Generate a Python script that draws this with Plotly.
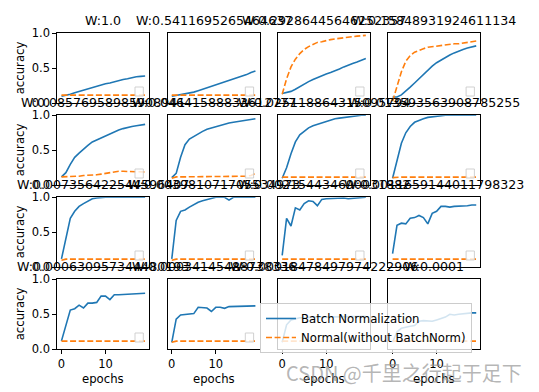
import plotly.graph_objects as go

# ---------------- data ----------------
epochs = list(range(20))

titles = ["W:1.0", "W:0.5411695265464637", "W:0.29286445646252357", "W:0.15848931924611134",
          "W:0.08576958985908941", "W:0.04641588833612777", "W:0.025118864315095794", "W:0.013593563908785255",
          "W:0.007356422544596407", "W:0.003981071705534973", "W:0.002154434690031882", "W:0.0011659144011798323",
          "W:0.000630957344480193", "W:0.00034145488738336", "W:0.00018478497974222906", "W:0.0001"]

bn_01 = [0.10, 0.11, 0.13, 0.15, 0.17, 0.19, 0.21, 0.23, 0.24, 0.26, 0.28, 0.29, 0.31, 0.32, 0.34, 0.35, 0.37, 0.38, 0.385, 0.39]
bn_02 = [0.10, 0.11, 0.12, 0.13, 0.14, 0.16, 0.18, 0.20, 0.22, 0.25, 0.27, 0.29, 0.31, 0.33, 0.35, 0.37, 0.39, 0.41, 0.44, 0.46]
bn_03 = [0.14, 0.15, 0.17, 0.20, 0.24, 0.28, 0.31, 0.34, 0.37, 0.39, 0.42, 0.44, 0.46, 0.49, 0.52, 0.55, 0.57, 0.59, 0.62, 0.64]
bn_04 = [0.09, 0.09, 0.12, 0.17, 0.23, 0.29, 0.35, 0.42, 0.48, 0.53, 0.58, 0.62, 0.66, 0.69, 0.72, 0.75, 0.77, 0.79, 0.80, 0.82]
bn_05 = [0.12, 0.18, 0.30, 0.40, 0.46, 0.52, 0.57, 0.62, 0.65, 0.68, 0.71, 0.74, 0.77, 0.79, 0.81, 0.83, 0.84, 0.85, 0.86, 0.87]
bn_06 = [0.11, 0.17, 0.40, 0.58, 0.66, 0.70, 0.74, 0.77, 0.80, 0.82, 0.84, 0.86, 0.88, 0.89, 0.90, 0.91, 0.92, 0.93, 0.94, 0.95]
bn_07 = [0.10, 0.25, 0.45, 0.62, 0.72, 0.77, 0.82, 0.85, 0.87, 0.89, 0.92, 0.94, 0.95, 0.96, 0.97, 0.98, 0.99, 1.00, 1.00, 1.00]
bn_08 = [0.10, 0.35, 0.60, 0.75, 0.84, 0.90, 0.93, 0.95, 0.97, 0.98, 0.99, 1.00, 1.00, 1.00, 1.00, 1.00, 1.00, 1.00, 1.00, 1.00]
bn_09 = [0.12, 0.40, 0.70, 0.80, 0.87, 0.91, 0.95, 0.98, 0.99, 1.00, 1.00, 1.00, 1.00, 1.00, 1.00, 1.00, 1.00, 1.00, 1.00, 1.00]
bn_10 = [0.12, 0.67, 0.80, 0.82, 0.86, 0.90, 0.93, 0.95, 0.97, 0.99, 1.00, 1.00, 1.00, 0.96, 1.00, 1.00, 1.00, 1.00, 1.00, 1.00]
bn_11 = [0.17, 0.70, 0.59, 0.85, 0.82, 0.91, 0.95, 0.94, 0.88, 0.97, 0.98, 0.985, 0.99, 0.99, 0.99, 0.98, 0.985, 0.99, 0.99, 1.00]
bn_12 = [0.195, 0.60, 0.63, 0.62, 0.70, 0.71, 0.74, 0.71, 0.62, 0.77, 0.80, 0.87, 0.87, 0.86, 0.87, 0.87, 0.88, 0.88, 0.89, 0.89]
bn_13 = [0.12, 0.33, 0.56, 0.58, 0.63, 0.59, 0.66, 0.66, 0.67, 0.76, 0.76, 0.71, 0.78, 0.78, 0.785, 0.79, 0.795, 0.80, 0.80, 0.80]
bn_14 = [0.10, 0.43, 0.49, 0.50, 0.50, 0.51, 0.60, 0.60, 0.59, 0.54, 0.60, 0.60, 0.585, 0.61, 0.61, 0.61, 0.615, 0.615, 0.62, 0.62]
bn_15 = [0.10, 0.35, 0.42, 0.44, 0.45, 0.45, 0.46, 0.46, 0.46, 0.46, 0.46, 0.47, 0.47, 0.47, 0.47, 0.47, 0.47, 0.47, 0.47, 0.47]
bn_16 = [0.10, 0.25, 0.30, 0.32, 0.33, 0.34, 0.40, 0.41, 0.41, 0.40, 0.42, 0.44, 0.46, 0.50, 0.49, 0.50, 0.51, 0.51, 0.52, 0.52]

nm_01 = [0.117, 0.117, 0.117, 0.117, 0.117, 0.117, 0.117, 0.117, 0.117, 0.117, 0.117, 0.117, 0.117, 0.117, 0.117, 0.117, 0.117, 0.117, 0.117, 0.117]
nm_02 = [0.117, 0.117, 0.117, 0.117, 0.117, 0.117, 0.117, 0.117, 0.117, 0.117, 0.117, 0.117, 0.117, 0.117, 0.117, 0.117, 0.117, 0.117, 0.117, 0.117]
nm_03 = [0.13, 0.35, 0.52, 0.63, 0.71, 0.77, 0.81, 0.84, 0.87, 0.88, 0.90, 0.91, 0.92, 0.93, 0.94, 0.95, 0.955, 0.96, 0.965, 0.97]
nm_04 = [0.03, 0.25, 0.45, 0.60, 0.68, 0.73, 0.76, 0.78, 0.80, 0.81, 0.82, 0.83, 0.84, 0.84, 0.85, 0.85, 0.86, 0.87, 0.88, 0.89]
nm_05 = [0.12, 0.12, 0.13, 0.13, 0.13, 0.14, 0.14, 0.15, 0.15, 0.16, 0.17, 0.18, 0.20, 0.20, 0.20, 0.20, 0.20, 0.20, 0.19, 0.19]
nm_06 = [0.10, 0.12, 0.12, 0.12, 0.12, 0.12, 0.12, 0.12, 0.12, 0.12, 0.12, 0.12, 0.12, 0.12, 0.12, 0.12, 0.13, 0.13, 0.14, 0.17]
nm_07 = [0.117, 0.117, 0.117, 0.117, 0.117, 0.117, 0.117, 0.117, 0.117, 0.117, 0.117, 0.117, 0.117, 0.117, 0.117, 0.117, 0.117, 0.117, 0.117, 0.117]
nm_08 = [0.11, 0.117, 0.117, 0.117, 0.117, 0.117, 0.117, 0.117, 0.117, 0.117, 0.117, 0.117, 0.117, 0.117, 0.117, 0.117, 0.117, 0.117, 0.117, 0.117]
nm_09 = [0.10, 0.117, 0.117, 0.117, 0.117, 0.117, 0.117, 0.117, 0.117, 0.117, 0.117, 0.117, 0.117, 0.117, 0.117, 0.117, 0.117, 0.117, 0.117, 0.117]
nm_10 = [0.10, 0.117, 0.117, 0.117, 0.117, 0.117, 0.117, 0.117, 0.117, 0.117, 0.117, 0.117, 0.117, 0.117, 0.117, 0.117, 0.117, 0.117, 0.117, 0.117]
nm_11 = [0.117, 0.117, 0.117, 0.117, 0.117, 0.117, 0.117, 0.117, 0.117, 0.117, 0.117, 0.117, 0.117, 0.117, 0.117, 0.117, 0.117, 0.117, 0.117, 0.117]
nm_12 = [0.117, 0.117, 0.117, 0.117, 0.117, 0.117, 0.117, 0.117, 0.117, 0.117, 0.117, 0.117, 0.117, 0.117, 0.117, 0.117, 0.117, 0.117, 0.117, 0.117]
nm_13 = [0.117, 0.117, 0.117, 0.117, 0.117, 0.117, 0.117, 0.117, 0.117, 0.117, 0.117, 0.117, 0.117, 0.117, 0.117, 0.117, 0.117, 0.117, 0.117, 0.117]
nm_14 = [0.10, 0.117, 0.117, 0.117, 0.117, 0.117, 0.117, 0.117, 0.117, 0.117, 0.117, 0.117, 0.117, 0.117, 0.117, 0.117, 0.117, 0.117, 0.117, 0.117]
nm_15 = [0.117, 0.117, 0.117, 0.117, 0.117, 0.117, 0.117, 0.117, 0.117, 0.117, 0.117, 0.117, 0.117, 0.117, 0.117, 0.117, 0.117, 0.117, 0.117, 0.117]
nm_16 = [0.117, 0.117, 0.117, 0.117, 0.117, 0.117, 0.117, 0.117, 0.117, 0.117, 0.117, 0.117, 0.117, 0.117, 0.117, 0.117, 0.117, 0.117, 0.117, 0.117]

bn_series = [bn_01, bn_02, bn_03, bn_04, bn_05, bn_06, bn_07, bn_08,
             bn_09, bn_10, bn_11, bn_12, bn_13, bn_14, bn_15, bn_16]
nm_series = [nm_01, nm_02, nm_03, nm_04, nm_05, nm_06, nm_07, nm_08,
             nm_09, nm_10, nm_11, nm_12, nm_13, nm_14, nm_15, nm_16]

y_ticks = [0.0, 0.5, 1.0]
y_tick_text = ["0.0", "0.5", "1.0"]
x_ticks = [0, 10]
x_tick_text = ["0", "10"]

# ---------------- layout geometry (window pixels) ----------------
OFF = 8                       # default page body margin of the html page
W, H = 539 - OFF, 392 - OFF   # figure size so that it ends at the window edge
col_left = [57.3, 167.6, 278.0, 388.4]
ax_w = 92.0
row_top = [33.3, 115.3, 197.3, 279.3]
ax_h = 70.0

BLUE = "#1f77b4"
ORANGE = "#ff7f0e"
FONT = "DejaVu Sans"

def px_x(x):
    return (x - OFF) / W

def px_y(y):
    return 1 - (y - OFF) / H

fig = go.Figure()
shapes = []
annotations = []

for i in range(16):
    r, c = divmod(i, 4)
    n = i + 1
    xa = "x" if n == 1 else f"x{n}"
    ya = "y" if n == 1 else f"y{n}"
    last = (i == 15)
    fig.add_trace(go.Scatter(x=epochs, y=bn_series[i], mode="lines", xaxis=xa, yaxis=ya,
                             line=dict(color=BLUE, width=1.6),
                             name="Batch Normalization", showlegend=last))
    fig.add_trace(go.Scatter(x=epochs, y=nm_series[i], mode="lines", xaxis=xa, yaxis=ya,
                             line=dict(color=ORANGE, width=1.6, dash="6px,2.6px"),
                             name="Normal(without BatchNorm)", showlegend=last))

    x0, x1 = px_x(col_left[c]), px_x(col_left[c] + ax_w)
    y1, y0 = px_y(row_top[r]), px_y(row_top[r] + ax_h)

    xkey = "xaxis" if n == 1 else f"xaxis{n}"
    ykey = "yaxis" if n == 1 else f"yaxis{n}"
    show_x = r == 3
    show_y = c == 0
    fig.layout[xkey] = dict(domain=[x0, x1], anchor=ya, range=[-0.95, 19.95], automargin=False,
                            showgrid=False, zeroline=False, showline=True, mirror=True,
                            linecolor="black", linewidth=1,
                            ticks="outside" if show_x else "", ticklen=4, tickwidth=1, tickcolor="black",
                            tickvals=x_ticks if show_x else [], ticktext=x_tick_text if show_x else [],
                            showticklabels=show_x,
                            tickfont=dict(family=FONT, size=11.5, color="black"))
    fig.layout[ykey] = dict(domain=[y0, y1], anchor=xa, range=[0, 1.0], automargin=False,
                            showgrid=False, zeroline=False, showline=True, mirror=True,
                            linecolor="black", linewidth=1,
                            ticks="outside" if show_y else "", ticklen=4, tickwidth=1, tickcolor="black",
                            tickvals=y_ticks if show_y else [], ticktext=y_tick_text if show_y else [],
                            showticklabels=show_y,
                            tickfont=dict(family=FONT, size=11.5, color="black"))

    # empty legend frame of each subplot (lower right)
    if not last:
        rx = col_left[c] + ax_w
        by = row_top[r] + ax_h
        shapes.append(dict(type="rect", xref="paper", yref="paper",
                           x0=px_x(rx - 14.3), x1=px_x(rx - 6.0),
                           y0=px_y(by - 7.3), y1=px_y(by - 16.3),
                           line=dict(color="rgba(204,204,204,0.9)", width=1),
                           fillcolor="rgba(255,255,255,0.8)", layer="above"))

    # subplot title
    annotations.append(dict(text=titles[i], xref="paper", yref="paper",
                            x=px_x(col_left[c] + ax_w / 2), y=px_y(row_top[r] - 3),
                            xanchor="center", yanchor="bottom", showarrow=False,
                            font=dict(family=FONT, size=12.6, color="black")))
    if c == 0:
        annotations.append(dict(text="accuracy", xref="paper", yref="paper",
                                x=px_x(20), y=px_y(row_top[r] + ax_h / 2), textangle=-90,
                                xanchor="center", yanchor="middle", showarrow=False,
                                font=dict(family=FONT, size=11.7, color="black")))
    if r == 3:
        annotations.append(dict(text="epochs", xref="paper", yref="paper",
                                x=px_x(col_left[c] + ax_w / 2), y=px_y(379),
                                xanchor="center", yanchor="middle", showarrow=False,
                                font=dict(family=FONT, size=11.7, color="black")))

annotations.append(dict(text="CSDN @千里之行起于足下", xref="paper", yref="paper",
                        x=px_x(524), y=px_y(372), xanchor="right", yanchor="middle",
                        showarrow=False,
                        font=dict(family="Noto Sans CJK SC", size=20, color="rgba(150,150,150,0.7)")))

fig.update_layout(
    width=W, height=H,
    margin=dict(l=0, r=0, t=0, b=0, autoexpand=False),
    paper_bgcolor="white", plot_bgcolor="white",
    shapes=shapes, annotations=annotations,
    showlegend=True,
    legend=dict(x=px_x(260), y=px_y(303), xanchor="left", yanchor="top",
                bgcolor="rgba(255,255,255,0.8)", bordercolor="rgba(204,204,204,1)", borderwidth=1,
                font=dict(family=FONT, size=11.7, color="black"),
                tracegroupgap=0),
)

fig.write_html("out.html")
